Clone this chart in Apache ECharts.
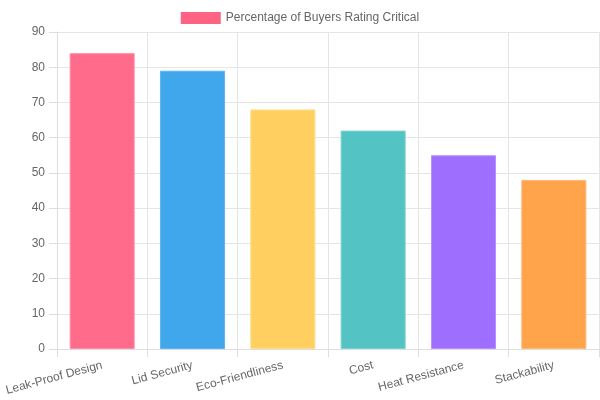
<!DOCTYPE html>
<html>
<head>
<meta charset="utf-8">
<script src="https://cdn.jsdelivr.net/npm/echarts@6/dist/echarts.min.js"></script>
<style>
  html, body { margin: 0; padding: 0; background: #fff; }
  #chart { width: 600px; height: 400px; }
</style>
</head>
<body>
<div id="chart"></div>
<script>
  var categories = ['Leak-Proof Design', 'Lid Security', 'Eco-Friendliness', 'Cost', 'Heat Resistance', 'Stackability'];
  var values = [84, 79, 68, 62, 55, 48];
  var fillColors = ['rgba(255,99,132,0.95)', 'rgba(54,162,235,0.95)', 'rgba(255,206,86,0.95)', 'rgba(75,192,192,0.95)', 'rgba(153,102,255,0.95)', 'rgba(255,159,64,0.95)'];
  var borderColors = ['#ff8fa6', '#5cb5f0', '#ffdc85', '#7dd3d3', '#b690ff', '#ffb878'];
  var seriesName = 'Percentage of Buyers Rating Critical';

  var chart = echarts.init(document.getElementById('chart'));
  var barData = values.map(function (v, i) {
    return {
      value: v,
      itemStyle: { color: fillColors[i], borderColor: borderColors[i], borderWidth: 1 }
    };
  });

  chart.setOption({
    animation: false,
    textStyle: { fontFamily: 'Liberation Sans, Arial, sans-serif' },
    legend: {
      top: 7,
      left: 'center',
      itemWidth: 40,
      itemHeight: 12,
      itemGap: 10,
      icon: 'rect',
      textStyle: { color: '#666', fontSize: 12 },
      data: [{ name: seriesName, itemStyle: { color: '#ff6384' } }]
    },
    grid: { left: 57, right: 1, top: 32, bottom: 51, containLabel: false },
    xAxis: {
      type: 'category',
      data: categories,
      boundaryGap: true,
      axisLine: { show: true, lineStyle: { color: '#ddd' } },
      axisTick: { show: true, length: 8, lineStyle: { color: '#ddd' } },
      splitLine: { show: true, lineStyle: { color: '#e5e5e5' } },
      axisLabel: { color: '#666', fontSize: 12, rotate: 15, interval: 0, margin: 16 }
    },
    yAxis: {
      type: 'value',
      min: 0,
      max: 90,
      interval: 10,
      axisLine: { show: true, lineStyle: { color: '#ddd' } },
      axisTick: { show: true, length: 8, lineStyle: { color: '#ddd' } },
      splitLine: { show: true, lineStyle: { color: '#e5e5e5' } },
      axisLabel: { color: '#666', fontSize: 12, margin: 12 }
    },
    series: [{
      name: seriesName,
      type: 'bar',
      data: barData,
      barWidth: '72%'
    }]
  });
</script>
</body>
</html>
